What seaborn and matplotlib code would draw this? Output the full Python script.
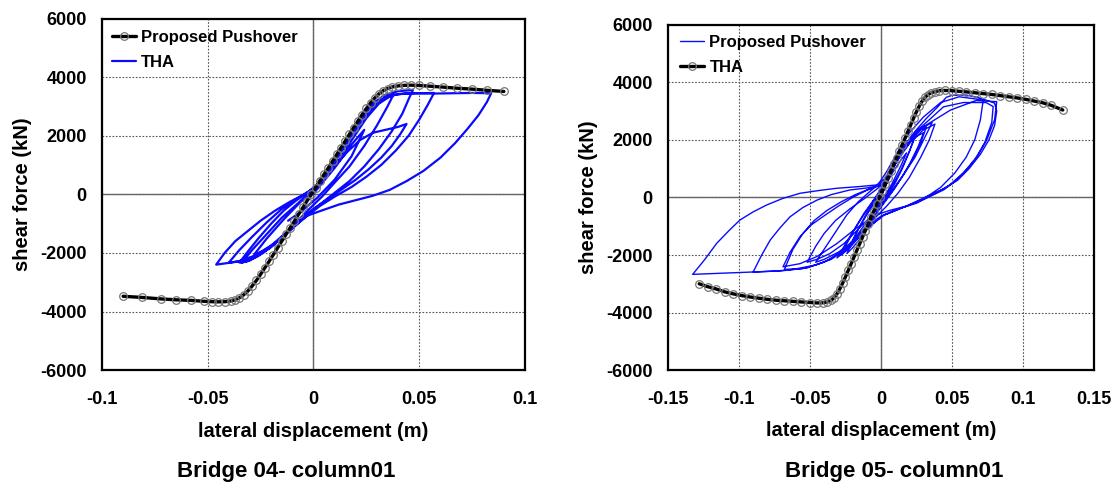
import matplotlib
matplotlib.use("Agg")
import matplotlib.pyplot as plt
import seaborn as sns
import pandas as pd
from matplotlib.ticker import FuncFormatter, FixedLocator

sns.set_style("white")
plt.rcParams['font.family'] = ['Liberation Sans', 'DejaVu Sans']
plt.rcParams['font.weight'] = 'bold'
for k in ['text.color', 'axes.labelcolor', 'xtick.color', 'ytick.color']:
    plt.rcParams[k] = 'black'

# ---------------- data ----------------
# Bridge 04 - column01
po04_pts = [(-0.090, -3480), (-0.081, -3520), (-0.072, -3570), (-0.065, -3600), (-0.058, -3620),
            (-0.052, -3650), (-0.048, -3665), (-0.045, -3670), (-0.042, -3665), (-0.039, -3640),
            (-0.037, -3600), (-0.035, -3530), (-0.033, -3430), (-0.031, -3300), (-0.029, -3130),
            (-0.027, -2940), (-0.025, -2730), (-0.023, -2510), (-0.021, -2290), (-0.019, -2060),
            (-0.017, -1830), (-0.015, -1600), (-0.013, -1370), (-0.011, -1140), (-0.009, -910),
            (-0.007, -680), (-0.005, -450), (-0.003, -220), (-0.001, 0), (0.001, 230), (0.003, 460),
            (0.005, 680), (0.007, 900), (0.009, 1130), (0.011, 1360), (0.013, 1590), (0.015, 1820),
            (0.017, 2050), (0.019, 2280), (0.021, 2500), (0.023, 2720), (0.025, 2930), (0.027, 3120),
            (0.029, 3290), (0.031, 3430), (0.033, 3540), (0.035, 3610), (0.037, 3660), (0.040, 3700),
            (0.043, 3720), (0.046, 3725), (0.050, 3715), (0.055, 3690), (0.061, 3660), (0.068, 3620),
            (0.075, 3590), (0.082, 3550), (0.090, 3510)]

tha04_pts = [
    (0.000, 0), (0.006, 650), (0.012, 1350), (0.018, 2000), (0.024, 2650), (0.030, 3150), (0.034, 3350), (0.038, 3430),
    (0.035, 3000), (0.030, 2350), (0.024, 1650), (0.017, 950), (0.010, 400), (0.004, -80), (-0.002, -500),
    (-0.008, -950), (-0.014, -1400), (-0.020, -1800), (-0.026, -2100), (-0.031, -2280), (-0.035, -2330),
    (-0.031, -1950), (-0.026, -1500), (-0.020, -1000), (-0.014, -550), (-0.008, -200), (-0.002, 100), (0.004, 500),
    (0.010, 1150), (0.016, 1850), (0.022, 2550), (0.028, 3100), (0.034, 3400), (0.040, 3520), (0.047, 3560),
    (0.045, 3250), (0.042, 2750), (0.037, 2150), (0.031, 1550), (0.024, 950), (0.017, 450), (0.010, 50),
    (0.003, -350), (-0.004, -750), (-0.012, -1250), (-0.020, -1750), (-0.028, -2100), (-0.035, -2280),
    (-0.041, -2350), (-0.046, -2400),
    (-0.042, -2000), (-0.037, -1600), (-0.031, -1250), (-0.025, -900), (-0.018, -550), (-0.011, -250),
    (-0.005, -30), (0.001, 250), (0.007, 700), (0.013, 1300), (0.019, 1950), (0.025, 2600), (0.031, 3100),
    (0.037, 3380), (0.043, 3440), (0.050, 3450), (0.057, 3460),
    (0.054, 3050), (0.050, 2550), (0.045, 2000), (0.039, 1500), (0.032, 1000), (0.025, 600), (0.018, 250),
    (0.010, -80), (0.003, -400), (-0.005, -850), (-0.013, -1350), (-0.021, -1850), (-0.029, -2150),
    (-0.036, -2300), (-0.040, -2330),
    (-0.035, -1900), (-0.029, -1450), (-0.022, -950), (-0.015, -500), (-0.008, -150), (-0.002, 100),
    (0.004, 450), (0.010, 950), (0.016, 1450), (0.022, 1850), (0.028, 2100), (0.034, 2200), (0.040, 2300), (0.044, 2400),
    (0.041, 2050), (0.037, 1650), (0.032, 1250), (0.026, 850), (0.020, 500), (0.013, 150), (0.006, -200),
    (-0.001, -550), (-0.008, -1000), (-0.016, -1550), (-0.024, -2000), (-0.030, -2250), (-0.034, -2340),
    (-0.029, -1900), (-0.022, -1350), (-0.015, -800), (-0.008, -350), (-0.002, 50), (0.004, 500), (0.010, 1150),
    (0.016, 1800), (0.022, 2450), (0.028, 2950), (0.034, 3300), (0.040, 3420), (0.048, 3450), (0.058, 3440),
    (0.066, 3450), (0.075, 3460), (0.084, 3450),
    (0.082, 3150), (0.078, 2700), (0.073, 2250), (0.067, 1750), (0.060, 1250), (0.052, 800), (0.044, 450),
    (0.036, 150), (0.028, -50), (0.020, -200), (0.012, -350), (0.004, -550), (-0.003, -730),
    (-0.010, -1150), (-0.018, -1650), (-0.024, -1950), (-0.028, -2050),
    (-0.022, -1500), (-0.014, -850), (-0.006, -250), (0.002, 200), (0.010, 900), (0.018, 1700), (0.024, 2200),
    (0.018, 1300), (0.010, 500), (0.002, -100), (-0.006, -600), (-0.012, -900)]

# Bridge 05 - column01
tha05_black_pts = [(-0.128, -3000), (-0.122, -3100), (-0.116, -3180), (-0.110, -3280), (-0.104, -3350),
                   (-0.098, -3410), (-0.092, -3460), (-0.086, -3500), (-0.080, -3540), (-0.074, -3570),
                   (-0.068, -3590), (-0.062, -3610), (-0.056, -3630), (-0.050, -3650), (-0.045, -3665),
                   (-0.041, -3660), (-0.038, -3630), (-0.035, -3570), (-0.033, -3480), (-0.031, -3350),
                   (-0.029, -3180), (-0.027, -2980), (-0.025, -2760), (-0.023, -2530), (-0.021, -2300),
                   (-0.019, -2070), (-0.017, -1840), (-0.015, -1610), (-0.013, -1380), (-0.011, -1150),
                   (-0.009, -920), (-0.007, -690), (-0.005, -460), (-0.003, -230), (-0.001, 0), (0.001, 230),
                   (0.003, 460), (0.005, 690), (0.007, 920), (0.009, 1150), (0.011, 1380), (0.013, 1610),
                   (0.015, 1840), (0.017, 2070), (0.019, 2300), (0.021, 2530), (0.023, 2760), (0.025, 2980),
                   (0.027, 3180), (0.029, 3350), (0.031, 3480), (0.033, 3570), (0.035, 3630), (0.038, 3680),
                   (0.041, 3710), (0.045, 3720), (0.050, 3710), (0.055, 3690), (0.060, 3670), (0.066, 3640),
                   (0.072, 3610), (0.078, 3580), (0.084, 3540), (0.090, 3500), (0.096, 3460), (0.102, 3410),
                   (0.108, 3350), (0.114, 3290), (0.120, 3200), (0.128, 3040)]

pp05_blue_pts = [
    (0.000, 0), (0.005, 600), (0.010, 1150), (0.015, 1600), (0.020, 1950), (0.024, 2150),
    (0.020, 1600), (0.015, 1000), (0.010, 500), (0.005, 100), (0.000, -300), (-0.005, -700), (-0.010, -1100),
    (-0.015, -1450), (-0.020, -1750), (-0.024, -1950),
    (-0.020, -1500), (-0.015, -1000), (-0.010, -550), (-0.005, -150), (0.000, 250), (0.005, 700), (0.010, 1200),
    (0.016, 1700), (0.022, 2100), (0.028, 2350), (0.032, 2450),
    (0.028, 1900), (0.022, 1300), (0.016, 800), (0.010, 350), (0.004, -50), (-0.002, -450), (-0.008, -850),
    (-0.014, -1250), (-0.020, -1600), (-0.026, -1900), (-0.031, -2100),
    (-0.026, -1700), (-0.020, -1200), (-0.014, -750), (-0.008, -300), (-0.002, 150), (0.004, 650), (0.010, 1150),
    (0.016, 1600), (0.022, 2000), (0.030, 2350), (0.038, 2550),
    (0.034, 2000), (0.028, 1400), (0.020, 700), (0.012, 150), (0.004, -300), (-0.004, -700), (-0.012, -1150),
    (-0.020, -1550), (-0.030, -1900), (-0.040, -2150), (-0.046, -2250),
    (-0.040, -1800), (-0.032, -1200), (-0.024, -600), (-0.016, -150), (-0.008, 200), (-0.002, 450), (0.004, 900),
    (0.012, 1600), (0.020, 2250), (0.030, 2800), (0.042, 3300), (0.055, 3500), (0.072, 3390),
    (0.070, 2700), (0.066, 2000), (0.060, 1400), (0.052, 850), (0.042, 350), (0.030, -50), (0.018, -300),
    (0.006, -450), (-0.003, -600), (-0.017, -1050), (-0.031, -1600), (-0.045, -2050), (-0.057, -2300), (-0.069, -2410),
    (-0.064, -1900), (-0.057, -1360), (-0.049, -950), (-0.041, -670), (-0.030, -300), (-0.020, 0), (-0.010, 250),
    (-0.003, 380), (0.003, 650), (0.010, 1300), (0.016, 1770), (0.030, 2460), (0.049, 3040), (0.067, 3370), (0.0815, 3330),
    (0.080, 2700), (0.0745, 2000), (0.068, 1450), (0.060, 960), (0.052, 550), (0.044, 260), (0.035, 50),
    (0.025, -200), (0.012, -400), (0.002, -600), (-0.010, -1100), (-0.022, -1700), (-0.035, -2150),
    (-0.052, -2450), (-0.070, -2550), (-0.090, -2590),
    (-0.084, -2000), (-0.078, -1480), (-0.071, -1050), (-0.064, -670), (-0.055, -350), (-0.045, -90),
    (-0.035, 100), (-0.022, 260), (-0.010, 330), (-0.002, 400), (0.004, 700), (0.010, 1200), (0.018, 1850),
    (0.026, 2350), (0.034, 2700), (0.044, 3150), (0.058, 3300), (0.074, 3300), (0.079, 3160),
    (0.078, 2600), (0.073, 1900), (0.066, 1300), (0.058, 850), (0.048, 420), (0.038, 130), (0.026, -150),
    (0.014, -380), (0.002, -620), (-0.012, -1150), (-0.025, -1800), (-0.040, -2250), (-0.055, -2470),
    (-0.075, -2560), (-0.100, -2610), (-0.120, -2650), (-0.1326, -2672),
    (-0.124, -2150), (-0.1157, -1594), (-0.107, -1150), (-0.0993, -783), (-0.090, -500), (-0.0805, -261),
    (-0.069, -30), (-0.057, 146), (-0.044, 240), (-0.0312, 320), (-0.015, 380), (-0.003, 435), (0.004, 700),
    (0.010, 1250), (0.016, 1770), (0.024, 2300), (0.032, 2750), (0.040, 3150), (0.046, 3480), (0.050, 3550),
    (0.060, 3560), (0.068, 3480), (0.076, 3350), (0.080, 3280),
    (0.0815, 3000), (0.080, 2500), (0.076, 2000), (0.070, 1500), (0.062, 1000), (0.054, 600), (0.044, 300),
    (0.032, 30), (0.020, -250), (0.008, -500), (0.000, -650), (-0.010, -1000), (-0.020, -1500), (-0.028, -1900),
    (-0.036, -2150), (-0.046, -2350), (-0.060, -2480), (-0.068, -2500),
    (-0.062, -1800), (-0.055, -1250), (-0.047, -800), (-0.038, -450), (-0.028, -150), (-0.018, 100),
    (-0.008, 300), (0.000, 450), (0.006, 900), (0.012, 1450), (0.018, 1900), (0.024, 2250), (0.030, 2450), (0.036, 2600),
    (0.030, 2000), (0.024, 1400), (0.016, 800), (0.008, 250), (0.000, -250), (-0.008, -700), (-0.016, -1100),
    (-0.026, -1600), (-0.036, -1950), (-0.045, -2150), (-0.052, -2250),
    (-0.046, -1700), (-0.040, -1250), (-0.032, -800), (-0.022, -400), (-0.012, -50), (-0.004, 250),
    (0.002, 500), (0.008, 1000), (0.014, 1500), (0.020, 1900), (0.026, 2150), (0.030, 2250),
    (0.026, 1750), (0.020, 1150), (0.014, 650), (0.008, 200), (0.002, -200), (-0.004, -600), (-0.010, -1000),
    (-0.016, -1400), (-0.022, -1750), (-0.028, -2000),
    (-0.024, -1600), (-0.018, -1050), (-0.012, -550), (-0.006, -150), (0.000, 250), (0.006, 800),
    (0.012, 1350), (0.018, 1800), (0.024, 2100),
    (0.020, 1600), (0.014, 950), (0.008, 400), (0.002, -50), (-0.004, -450), (-0.010, -850), (-0.016, -1250), (-0.020, -1500),
    (-0.016, -1100), (-0.010, -600), (-0.004, -150), (0.002, 300), (0.008, 850), (0.014, 1300), (0.018, 1550),
    (0.014, 1100), (0.008, 500), (0.002, 0), (-0.004, -400), (-0.008, -650)]

x04_ticks = [-0.1, -0.05, 0, 0.05, 0.1]
x05_ticks = [-0.15, -0.1, -0.05, 0, 0.05, 0.1, 0.15]
y_ticks = [-6000, -4000, -2000, 0, 2000, 4000, 6000]
titles = ["Bridge 04- column01", "Bridge 05- column01"]
xlabel = "lateral displacement (m)"
ylabel = "shear force (kN)"

BLUE = "#0a0aff"

fig = plt.figure(figsize=(11.17, 4.87), dpi=100)
ax1 = fig.add_axes([0.0913, 0.240, 0.3787, 0.722])
ax2 = fig.add_axes([0.598, 0.240, 0.3814, 0.709])


def to_df(pts):
    return pd.DataFrame({"x": [p[0] for p in pts], "y": [p[1] for p in pts]})


def style_axes(ax, xticks):
    ax.set_xlim(xticks[0], xticks[-1])
    ax.set_ylim(y_ticks[0], y_ticks[-1])
    ax.xaxis.set_major_locator(FixedLocator(xticks))
    ax.yaxis.set_major_locator(FixedLocator(y_ticks))
    ax.xaxis.set_major_formatter(FuncFormatter(lambda v, p: "%g" % v))
    ax.yaxis.set_major_formatter(FuncFormatter(lambda v, p: "%d" % v))
    ax.grid(True, ls=(0, (1.5, 1.5)), color="#555555", lw=0.8)
    ax.set_axisbelow(True)
    ax.axhline(0, color="#666666", lw=1.0, zorder=1.5)
    ax.axvline(0, color="#666666", lw=1.0, zorder=1.5)
    ax.tick_params(axis="x", length=0, labelsize=13, pad=15)
    ax.tick_params(axis="y", length=0, labelsize=13, pad=11)
    for lab in ax.get_xticklabels() + ax.get_yticklabels():
        lab.set_fontweight("bold")
    for s in ax.spines.values():
        s.set_color("black")
        s.set_linewidth(1.6)
    ax.set_xlabel(xlabel, fontsize=14.5, fontweight="bold")
    ax.set_ylabel(ylabel, fontsize=14.5, fontweight="bold")
    ax.xaxis.set_label_coords(0.5, -0.148)
    ax.yaxis.set_label_coords(-0.165, 0.5)


def draw(ax, blue_pts, black_pts, blue_label, black_label, blue_lw, black_first):
    sns.lineplot(data=to_df(blue_pts), x="x", y="y", sort=False, estimator=None,
                 color=BLUE, lw=blue_lw, ax=ax, label=blue_label, zorder=3)
    sns.lineplot(data=to_df(black_pts), x="x", y="y", sort=False, estimator=None,
                 color="black", lw=2.4, marker="o", markersize=5.5,
                 markerfacecolor="none", markeredgecolor="#777777", markeredgewidth=0.9,
                 ax=ax, label=black_label, zorder=4)
    h, l = ax.get_legend_handles_labels()
    if black_first:
        h, l = h[::-1], l[::-1]
    return h, l


leg_kw = dict(loc="upper left", frameon=False, prop={"weight": "bold", "size": 12},
              handlelength=1.45, handletextpad=0.3, labelspacing=0.6, borderpad=0, borderaxespad=0)

h1, l1 = draw(ax1, tha04_pts, po04_pts, "THA", "Proposed Pushover", 1.6, True)
style_axes(ax1, x04_ticks)
ax1.legend(h1, l1, bbox_to_anchor=(0.024, 0.968), **leg_kw)

h2, l2 = draw(ax2, pp05_blue_pts, tha05_black_pts, "Proposed Pushover", "THA", 1.0, False)
style_axes(ax2, x05_ticks)
ax2.legend(h2, l2, bbox_to_anchor=(0.029, 0.970), **leg_kw)

fig.text(286 / 1117, 1 - 471 / 487, titles[0], ha="center", va="center", fontsize=16, fontweight="bold")
fig.text(894 / 1117, 1 - 471 / 487, titles[1], ha="center", va="center", fontsize=16, fontweight="bold")

fig.savefig("out.png", dpi=100)
